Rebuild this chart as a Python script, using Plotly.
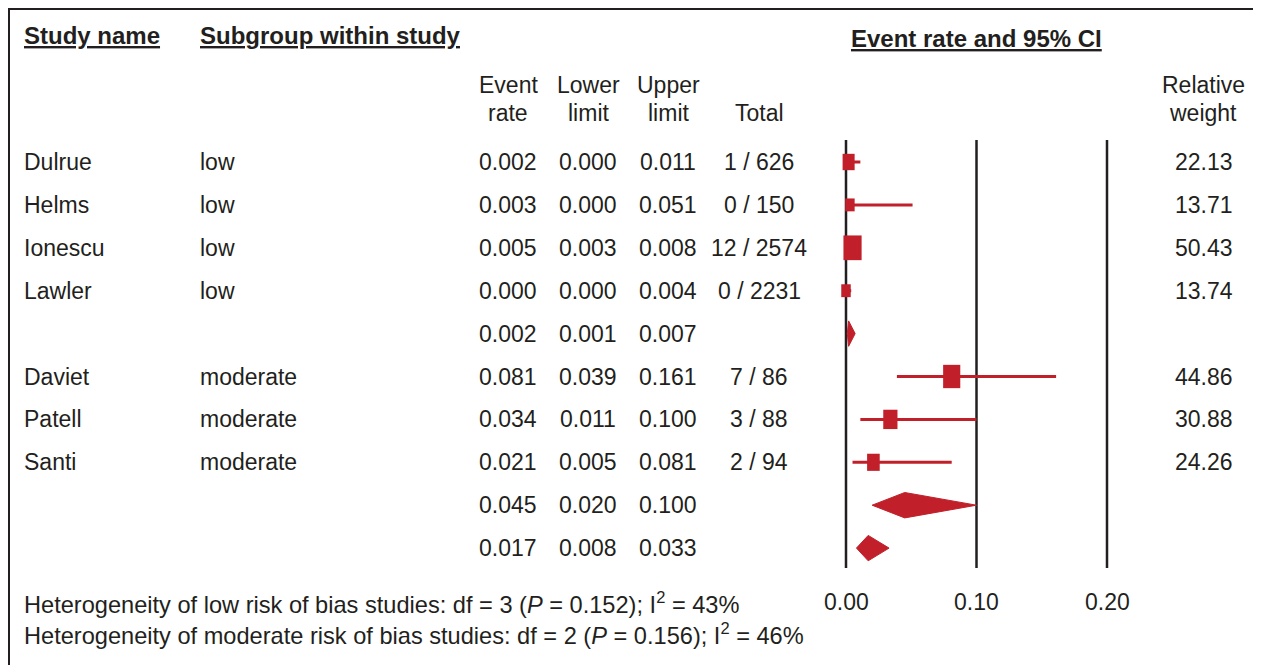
import plotly.graph_objects as go
import numpy as np

# ---------------- data ----------------
studies = ["Dulrue", "Helms", "Ionescu", "Lawler", "Daviet", "Patell", "Santi"]
subgroups = ["low", "low", "low", "low", "moderate", "moderate", "moderate"]
event_rate = [0.002, 0.003, 0.005, 0.000, 0.081, 0.034, 0.021]
lower_limit = [0.000, 0.000, 0.003, 0.000, 0.039, 0.011, 0.005]
upper_limit = [0.011, 0.051, 0.008, 0.004, 0.161, 0.100, 0.081]
events = [1, 0, 12, 0, 7, 3, 2]
totals = [626, 150, 2574, 2231, 86, 88, 94]
rel_weight = [22.13, 13.71, 50.43, 13.74, 44.86, 30.88, 24.26]
study_rows = [0, 1, 2, 3, 5, 6, 7]

summary_rate = [0.002, 0.045, 0.017]
summary_lower = [0.001, 0.020, 0.008]
summary_upper = [0.007, 0.100, 0.033]
summary_rows = [4, 8, 9]

axis_ticks = [0.0, 0.1, 0.2]
tick_labels = ["0.00", "0.10", "0.20"]

footer_lines = [
    "Heterogeneity of low risk of bias studies: df = 3 (<i>P</i> = 0.152); I<sup>2</sup> = 43%",
    "Heterogeneity of moderate risk of bias studies: df = 2 (<i>P</i> = 0.156); I<sup>2</sup> = 46%",
]

# ---------------- geometry ----------------
OFF = 8                       # page body margin
W, H = 1261 - OFF, 665 - OFF
PX_PER_UNIT = 1305.0          # pixels per 1.0 of event rate
X0_PX = 846.0 - OFF           # pixel of event rate 0
ROW0_PX = 162.0 - OFF
ROW_PX = 42.9

x_lo = -X0_PX / PX_PER_UNIT
x_hi = x_lo + W / PX_PER_UNIT
y_top = -ROW0_PX / ROW_PX
y_bot = (H - ROW0_PX) / ROW_PX


def px2row(p):
    """reference (viewport) pixel -> row coordinate"""
    return (p - OFF - ROW0_PX) / ROW_PX


def pxx(p):
    """reference (viewport) pixel -> paper x"""
    return (p - OFF) / W


RED = "#c1202a"
BLACK = "#231f20"
FONT = "Liberation Sans"
FS = 23
HFS = 24

fig = go.Figure()

# reference lines
vx, vy = [], []
for t in axis_ticks:
    vx += [t, t, None]
    vy += [px2row(140), px2row(568), None]
fig.add_trace(go.Scatter(x=vx, y=vy, mode="lines", line=dict(color=BLACK, width=2.5),
                         hoverinfo="skip", showlegend=False))

# CI lines
cx, cy = [], []
for lo, hi, r in zip(lower_limit, upper_limit, study_rows):
    cx += [lo, hi, None]
    cy += [r, r, None]
fig.add_trace(go.Scatter(x=cx, y=cy, mode="lines", line=dict(color=RED, width=3),
                         hoverinfo="skip", showlegend=False))

# weight boxes
for er, w, r in zip(event_rate, rel_weight, study_rows):
    hw_px = 1.28 * np.sqrt(w)
    hh_px = 1.36 * hw_px
    hw = hw_px / PX_PER_UNIT
    hh = hh_px / ROW_PX
    fig.add_trace(go.Scatter(
        x=[er - hw, er + hw, er + hw, er - hw, er - hw],
        y=[r - hh, r - hh, r + hh, r + hh, r - hh],
        mode="lines", fill="toself", fillcolor=RED, line=dict(color=RED, width=0),
        hoverinfo="skip", showlegend=False))

# summary diamonds
for er, lo, hi, r in zip(summary_rate, summary_lower, summary_upper, summary_rows):
    hh = 12.7 / ROW_PX
    fig.add_trace(go.Scatter(
        x=[lo, er, hi, er, lo],
        y=[r, r - hh, r, r + hh, r],
        mode="lines", fill="toself", fillcolor=RED, line=dict(color=RED, width=1),
        hoverinfo="skip", showlegend=False))

ann = []


def add(text, x, y, xanchor="left", size=FS, xref="paper", yref="y", bold=False):
    ann.append(dict(text=text, x=x, y=y, xref=xref, yref=yref, xanchor=xanchor,
                    yanchor="middle", showarrow=False,
                    font=dict(family=FONT, size=size, color=BLACK,
                              weight="bold" if bold else "normal")))


# headers
add("<u>Study name</u>", pxx(22), px2row(35), bold=True, size=HFS)
add("<u>Subgroup within study</u>", pxx(198), px2row(35), bold=True, size=HFS)
add("<u>Event rate and 95% CI</u>", 0.1, px2row(38), xanchor="center", xref="x", bold=True, size=HFS)

col_centers = [508, 588, 668]
hdr1 = ["Event", "Lower", "Upper"]
hdr2 = ["rate", "limit", "limit"]
for c, a, b in zip(col_centers, hdr1, hdr2):
    add(a, pxx(c), px2row(85), xanchor="center")
    add(b, pxx(c), px2row(113), xanchor="center")
add("Total", pxx(759), px2row(113), xanchor="center")
add("Relative", pxx(1203), px2row(85), xanchor="center")
add("weight", pxx(1203), px2row(113), xanchor="center")

# study rows
for s, g, er, lo, hi, e, n, w, r in zip(studies, subgroups, event_rate, lower_limit,
                                        upper_limit, events, totals, rel_weight, study_rows):
    add(s, pxx(22), r)
    add(g, pxx(198), r)
    for c, v in zip(col_centers, [er, lo, hi]):
        add(f"{v:.3f}", pxx(c), r, xanchor="center")
    add(f"{e} / {n}", pxx(759), r, xanchor="center")
    add(f"{w:.2f}", pxx(1235), r, xanchor="right")

for er, lo, hi, r in zip(summary_rate, summary_lower, summary_upper, summary_rows):
    for c, v in zip(col_centers, [er, lo, hi]):
        add(f"{v:.3f}", pxx(c), r, xanchor="center")

# tick labels
for t, lab in zip(axis_ticks, tick_labels):
    add(lab, t, px2row(602), xanchor="center", xref="x")

# footer
add(footer_lines[0], pxx(22), px2row(603), size=23.6)
add(footer_lines[1], pxx(22), px2row(634), size=23.6)

fig.update_layout(
    width=W, height=H,
    margin=dict(l=0, r=0, t=0, b=0),
    paper_bgcolor="white", plot_bgcolor="white",
    xaxis=dict(range=[x_lo, x_hi], visible=False, fixedrange=True),
    yaxis=dict(range=[y_bot, y_top], visible=False, fixedrange=True),
    annotations=ann,
    shapes=[dict(type="rect", xref="paper", yref="paper",
                 x0=1 / W, x1=pxx(1258), y0=-0.05, y1=1 - 1 / H,
                 line=dict(color=BLACK, width=2))],
    showlegend=False,
)

fig.write_html("out.html", config={"displayModeBar": False})
